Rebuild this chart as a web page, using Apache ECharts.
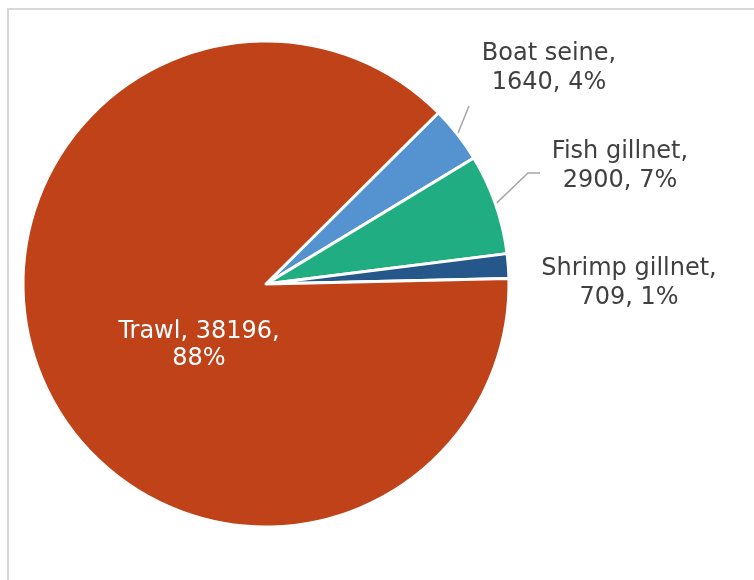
<!DOCTYPE html>
<html>
<head>
<meta charset="utf-8">
<script src="https://cdn.jsdelivr.net/npm/echarts@6/dist/echarts.min.js"></script>
<style>
  html, body { margin: 0; padding: 0; background: #fff; }
  #chart { width: 754px; height: 580px; }
</style>
</head>
<body>
<div id="chart"></div>
<script>
// data (clockwise from the top-right)
const categories = ["Boat seine", "Fish gillnet", "Shrimp gillnet", "Trawl"];
const values = [1640, 2900, 709, 38196];
const percentLabels = ["4%", "7%", "1%", "88%"];
const colors = ["#5593d0", "#21ad82", "#26578a", "#bf4219"];

const center = [266, 284];
const radius = 243;
const startAngle = 44.8;

// where each label sits (centre of the text block) and its leader line bends
const labelSpots = [
  { x: 549, y: 68, line: [[469, 106]] },
  { x: 620, y: 166, line: [[528, 173], [540, 173]] },
  { x: 629, y: 283, line: null },
  { x: 199, y: 345, line: null }
];

const total = values.reduce((a, b) => a + b, 0);

// point on the rim in the middle of slice i
const rimPoint = (i) => {
  let before = 0;
  for (let k = 0; k < i; k++) before += values[k];
  const mid = startAngle - ((before + values[i] / 2) / total) * 360;
  const rad = (mid * Math.PI) / 180;
  return [center[0] + radius * Math.cos(rad), center[1] - radius * Math.sin(rad)];
};

const chart = echarts.init(document.getElementById("chart"), null, { renderer: "canvas" });

const option = {
  animation: false,
  graphic: [
    {
      type: "rect",
      shape: { x: 8, y: 9, width: 800, height: 700 },
      style: { fill: "none", stroke: "#d9d9d9", lineWidth: 2 },
      silent: true
    }
  ],
  series: [
    {
      type: "pie",
      center: center,
      radius: radius,
      startAngle: startAngle,
      clockwise: true,
      avoidLabelOverlap: false,
      itemStyle: { borderColor: "#fff", borderWidth: 3 },
      label: {
        show: true,
        position: "outside",
        fontFamily: "DejaVu Sans, Verdana, sans-serif",
        fontSize: 24,
        lineHeight: 29,
        color: "#404040",
        formatter: (p) => p.name + ",\n" + values[p.dataIndex] + ", " + percentLabels[p.dataIndex]
      },
      labelLine: {
        show: true,
        smooth: false,
        lineStyle: { color: "#a6a6a6", width: 1.5 }
      },
      labelLayout: (p) => {
        const spot = labelSpots[p.dataIndex];
        const out = { x: spot.x, y: spot.y, align: "center", verticalAlign: "middle" };
        if (spot.line) out.labelLinePoints = [rimPoint(p.dataIndex)].concat(spot.line);
        return out;
      },
      emphasis: { disabled: true },
      data: categories.map((name, i) => {
        const item = { name: name, value: values[i], itemStyle: { color: colors[i] } };
        if (name === "Trawl") {
          item.label = { position: "inside", color: "#fff", lineHeight: 27,
            formatter: (p) => p.name + ", " + values[p.dataIndex] + ",\n" + percentLabels[p.dataIndex] };
          item.labelLine = { show: false };
        }
        if (name === "Shrimp gillnet") item.labelLine = { show: false };
        return item;
      })
    }
  ]
};

chart.setOption(option);
</script>
</body>
</html>
